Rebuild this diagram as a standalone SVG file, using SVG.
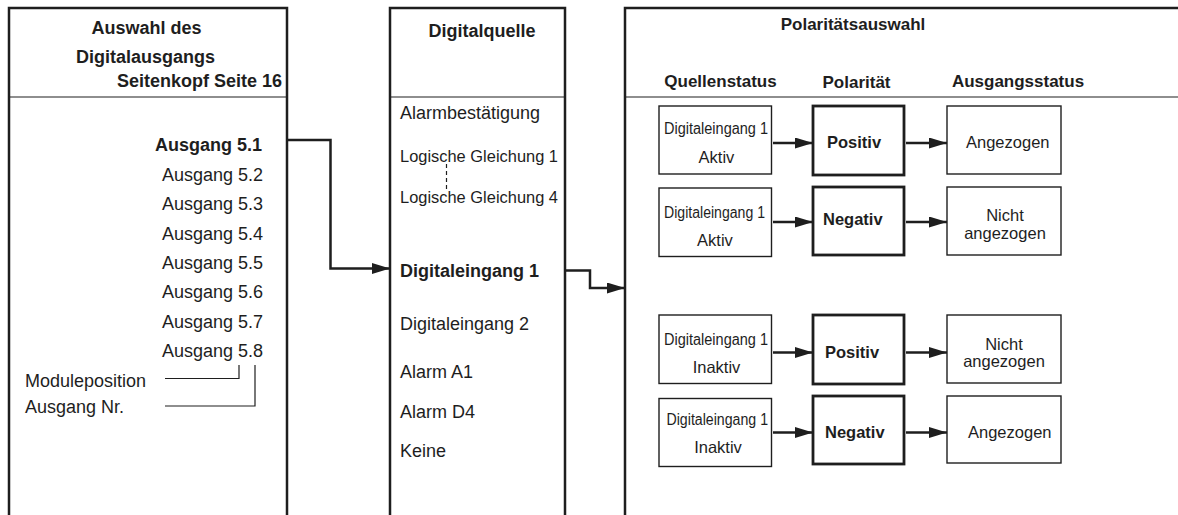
<svg xmlns="http://www.w3.org/2000/svg" width="1178" height="515" viewBox="0 0 1178 515">
  <style>
    text { font-family: "Liberation Sans", Arial, sans-serif; fill: #1e1e1e; }
    .b { font-weight: bold; }
    .h18 { font-size: 18px; }
    .h17 { font-size: 17px; }
    .t18 { font-size: 18px; }
    .t17 { font-size: 17px; }
    .t16 { font-size: 16.5px; }
    .t14 { font-size: 16px; }
    .mid { text-anchor: middle; }
    .end { text-anchor: end; }
    .panel { fill: none; stroke: #1e1e1e; stroke-width: 2.5; }
    .div { stroke: #1e1e1e; stroke-width: 1.2; }
    .box { fill: #fff; stroke: #1e1e1e; stroke-width: 1.4; }
    .pbox { fill: #fff; stroke: #1e1e1e; stroke-width: 2.8; }
    .conn { fill: none; stroke: #1e1e1e; stroke-width: 2.5; }
    .thin { fill: none; stroke: #1e1e1e; stroke-width: 1.2; }
  </style>
  <defs>
    <marker id="arrow" markerUnits="userSpaceOnUse" markerWidth="19" markerHeight="12" refX="18" refY="5.5" orient="auto">
      <path d="M0,0 L18,5.5 L0,11 z" fill="#1e1e1e"/>
    </marker>
  </defs>
  <rect width="1178" height="515" fill="#fff"/>

  <!-- Left panel: output selection -->
  <g id="ausgangswahl">
    <path class="panel" d="M9,520 V8 H287 V520"/>
    <line class="div" x1="9" y1="97" x2="286" y2="97"/>
    <text class="b h18 mid" x="146.5" y="34">Auswahl des</text>
    <text class="b h18 mid" x="145.5" y="63">Digitalausgangs</text>
    <text class="b h18 end" x="282" y="87">Seitenkopf Seite 16</text>
    <text class="b t18 end" x="262" y="151">Ausgang 5.1</text>
    <text class="t18 end" x="263" y="180.5">Ausgang 5.2</text>
    <text class="t18 end" x="263" y="210">Ausgang 5.3</text>
    <text class="t18 end" x="263" y="239.5">Ausgang 5.4</text>
    <text class="t18 end" x="263" y="268.5">Ausgang 5.5</text>
    <text class="t18 end" x="263" y="298">Ausgang 5.6</text>
    <text class="t18 end" x="263" y="327.5">Ausgang 5.7</text>
    <text class="t18 end" x="263" y="357">Ausgang 5.8</text>
    <text class="t18" x="25" y="387">Moduleposition</text>
    <text class="t18" x="25" y="412.5">Ausgang Nr.</text>
    <path class="thin" d="M165,378.5 H239 V365"/>
    <path class="thin" d="M165,406 H255 V365"/>
  </g>

  <!-- Middle panel: digital source -->
  <g id="digitalquelle">
    <path class="panel" d="M390,520 V8 H565 V520"/>
    <line class="div" x1="390" y1="97" x2="565" y2="97"/>
    <text class="b h18 mid" x="482" y="36.5">Digitalquelle</text>
    <text class="t18" x="400" y="119">Alarmbestätigung</text>
    <text class="t17" x="400" y="161.5" textLength="158" lengthAdjust="spacingAndGlyphs">Logische Gleichung 1</text>
    <line x1="446.5" y1="164" x2="446.5" y2="192" stroke="#1e1e1e" stroke-width="1.2" stroke-dasharray="4,3"/>
    <text class="t17" x="400" y="203" textLength="158" lengthAdjust="spacingAndGlyphs">Logische Gleichung 4</text>
    <text class="b t18" x="400" y="276.5">Digitaleingang 1</text>
    <text class="t18" x="400" y="330">Digitaleingang 2</text>
    <text class="t18" x="400" y="378">Alarm A1</text>
    <text class="t18" x="400" y="417.5">Alarm D4</text>
    <text class="t18" x="400" y="456.5">Keine</text>
  </g>

  <!-- Right panel: polarity selection -->
  <g id="polaritaetsauswahl">
    <path class="panel" d="M625,520 V8 H1180"/>
    <line class="div" x1="625" y1="97" x2="1178" y2="97"/>
    <text class="b h17 mid" x="853" y="30">Polaritätsauswahl</text>
    <text class="b h17 mid" x="720.5" y="87">Quellenstatus</text>
    <text class="b h17 mid" x="856.5" y="88">Polarität</text>
    <text class="b h17 mid" x="1018" y="87">Ausgangsstatus</text>
  </g>

  <!-- Row 1 -->
  <g id="quelle-1">
    <rect class="box" x="659" y="106" width="112.5" height="68"/>
    <text class="t14" x="664" y="134" textLength="104" lengthAdjust="spacingAndGlyphs">Digitaleingang 1</text>
    <text class="t16 mid" x="716.5" y="163">Aktiv</text>
  </g>
  <g id="polaritaet-1">
    <rect class="pbox" x="813" y="106" width="91" height="69"/>
    <text class="b t16" x="827" y="148">Positiv</text>
  </g>
  <g id="ausgang-1">
    <rect class="box" x="947" y="106" width="114" height="68"/>
    <text class="t16" x="966" y="148">Angezogen</text>
  </g>

  <!-- Row 2 -->
  <g id="quelle-2">
    <rect class="box" x="659" y="188" width="112.5" height="68.5"/>
    <text class="t14" x="664" y="218" textLength="101" lengthAdjust="spacingAndGlyphs">Digitaleingang 1</text>
    <text class="t16 mid" x="715" y="246">Aktiv</text>
  </g>
  <g id="polaritaet-2">
    <rect class="pbox" x="813" y="187" width="91" height="68"/>
    <text class="b t16" x="823" y="225">Negativ</text>
  </g>
  <g id="ausgang-2">
    <rect class="box" x="947" y="187" width="114" height="68"/>
    <text class="t16 mid" x="1005" y="221">Nicht</text>
    <text class="t16 mid" x="1005" y="238.5">angezogen</text>
  </g>

  <!-- Row 3 -->
  <g id="quelle-3">
    <rect class="box" x="659" y="315" width="112.5" height="68.5"/>
    <text class="t14" x="664" y="345" textLength="104" lengthAdjust="spacingAndGlyphs">Digitaleingang 1</text>
    <text class="t16 mid" x="716.5" y="373">Inaktiv</text>
  </g>
  <g id="polaritaet-3">
    <rect class="pbox" x="813" y="315" width="91" height="69"/>
    <text class="b t16" x="825" y="358">Positiv</text>
  </g>
  <g id="ausgang-3">
    <rect class="box" x="947" y="315" width="114" height="68"/>
    <text class="t16 mid" x="1004" y="349.5">Nicht</text>
    <text class="t16 mid" x="1004" y="367">angezogen</text>
  </g>

  <!-- Row 4 -->
  <g id="quelle-4">
    <rect class="box" x="659" y="398.5" width="112.5" height="68"/>
    <text class="t14" x="666.5" y="425" textLength="101.5" lengthAdjust="spacingAndGlyphs">Digitaleingang 1</text>
    <text class="t16 mid" x="718" y="453">Inaktiv</text>
  </g>
  <g id="polaritaet-4">
    <rect class="pbox" x="813" y="396" width="91" height="68"/>
    <text class="b t16" x="825" y="437.5">Negativ</text>
  </g>
  <g id="ausgang-4">
    <rect class="box" x="947" y="396" width="114" height="67"/>
    <text class="t16" x="968" y="437.5">Angezogen</text>
  </g>

  <!-- Connectors -->
  <g id="connectors">
    <path class="conn" d="M287,140 H330.5 V268.5 H390" marker-end="url(#arrow)"/>
    <path class="conn" d="M565,270.5 H590 V288 H625" marker-end="url(#arrow)"/>
    <line class="conn" x1="773" y1="143" x2="813" y2="143" marker-end="url(#arrow)"/>
    <line class="conn" x1="906" y1="143" x2="947" y2="143" marker-end="url(#arrow)"/>
    <line class="conn" x1="773" y1="222" x2="813" y2="222" marker-end="url(#arrow)"/>
    <line class="conn" x1="906" y1="222" x2="947" y2="222" marker-end="url(#arrow)"/>
    <line class="conn" x1="773" y1="352.5" x2="813" y2="352.5" marker-end="url(#arrow)"/>
    <line class="conn" x1="906" y1="352.5" x2="947" y2="352.5" marker-end="url(#arrow)"/>
    <line class="conn" x1="773" y1="432.5" x2="813" y2="432.5" marker-end="url(#arrow)"/>
    <line class="conn" x1="906" y1="432.5" x2="947" y2="432.5" marker-end="url(#arrow)"/>
  </g>
</svg>
